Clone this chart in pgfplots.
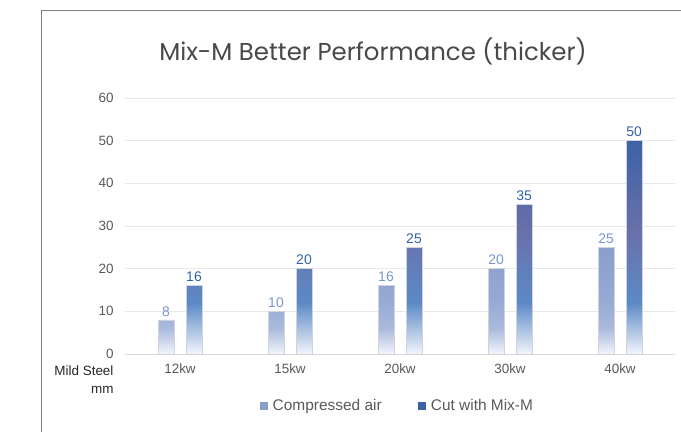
\documentclass[border=0pt]{standalone}
\usepackage{pgfplots}
\pgfplotsset{compat=1.18}
\usepackage{fontspec}
\setmainfont{Liberation Sans}
\newfontfamily\titlefont{Poppins}
\definecolor{txt}{RGB}{89,89,89}
\definecolor{gridc}{RGB}{232,232,232}
\definecolor{caTop}{RGB}{138,158,205}
\definecolor{caMid}{RGB}{150,170,212}
\definecolor{caLow}{RGB}{170,186,220}
\definecolor{mmTop}{RGB}{60,98,166}
\definecolor{mmMid}{RGB}{105,112,170}
\definecolor{mmLow}{RGB}{92,138,198}
\definecolor{fade}{RGB}{242,245,251}
\definecolor{caLab}{RGB}{120,150,205}
\definecolor{mmLab}{RGB}{50,98,170}
\definecolor{edge}{RGB}{208,210,220}
\pgfdeclareverticalshading{cashade}{100bp}{color(0bp)=(fade); color(25bp)=(fade); color(37bp)=(caLow); color(50bp)=(caMid); color(75bp)=(caTop); color(100bp)=(caTop)}
\pgfdeclareverticalshading{mmshade}{100bp}{color(0bp)=(fade); color(25bp)=(fade); color(37bp)=(mmLow); color(54bp)=(mmMid); color(75bp)=(mmTop); color(100bp)=(mmTop)}
\begin{document}
\begin{tikzpicture}[x=1bp,y=1bp]
\useasboundingbox (0,0) rectangle (681,432);
\draw[color={rgb,255:red,128;green,128;blue,128}, line width=0.8bp] (41,0) -- (41,422) -- (681,422);
\node[font=\titlefont\fontsize{24.5}{28}\selectfont, text={rgb,255:red,72;green,72;blue,72}] at (373,381) {Mix-M Better Performance (thicker)};
\node[font=\fontsize{13.5}{18}\selectfont, text=black!85, align=right, anchor=east] at (117,52) {Mild Steel\\mm};
\begin{axis}[
  at={(125bp,78bp)}, anchor=south west,
  scale only axis, width=550bp, height=256bp,
  xmin=-0.5, xmax=4.5, ymin=0, ymax=60,
  ytick={0,10,...,60},
  xtick={0,1,2,3,4},
  xticklabels={12kw,15kw,20kw,30kw,40kw},
  axis line style={draw=none},
  xmajorgrids=false, ymajorgrids=true,
  grid style={draw=gridc, line width=0.6bp},
  major tick length=0pt,
  tick label style={font=\fontsize{13.5}{16}\selectfont, text=txt},
  yticklabel style={xshift=-8bp},
  xticklabel style={yshift=-6bp},
  /pgf/number format/assume math mode=true,
  ybar, bar width=16bp,
  nodes near coords,
  every node near coord/.append style={font=\fontsize{14}{16}\selectfont, /pgf/number format/assume math mode=true},
  legend columns=2,
  legend style={draw=none, fill=none, at={(0.495,-0.2)}, anchor=center,
    font=\fontsize{15.5}{18}\selectfont, text=txt,
    /tikz/every even column/.append style={column sep=34bp}},
  clip=false,
]
\draw[color={rgb,255:red,217;green,217;blue,217}, line width=0.8bp] (axis cs:-0.5,0) -- (axis cs:4.5,0);
\addlegendimage{legend image code/.code={\fill[caTop] (0bp,-3.5bp) rectangle (7bp,3.5bp); \path[draw=none] (0bp,0bp) -- (11bp,0bp);}}
\addlegendentry{Compressed air}
\addlegendimage{legend image code/.code={\fill[mmTop] (0bp,-3.5bp) rectangle (7bp,3.5bp); \path[draw=none] (0bp,0bp) -- (11bp,0bp);}}
\addlegendentry{Cut with Mix-M}
\addplot[forget plot, bar shift=-14bp, draw=edge, line width=0.6bp, shading=cashade, shade,
  every node near coord/.append style={text=caLab}]
  coordinates {(0,8) (1,10) (2,16) (3,20) (4,25)};
\addplot[forget plot, bar shift=14bp, draw=edge, line width=0.6bp, shading=mmshade, shade,
  every node near coord/.append style={text=mmLab}]
  coordinates {(0,16) (1,20) (2,25) (3,35) (4,50)};
\end{axis}
\end{tikzpicture}
\end{document}
